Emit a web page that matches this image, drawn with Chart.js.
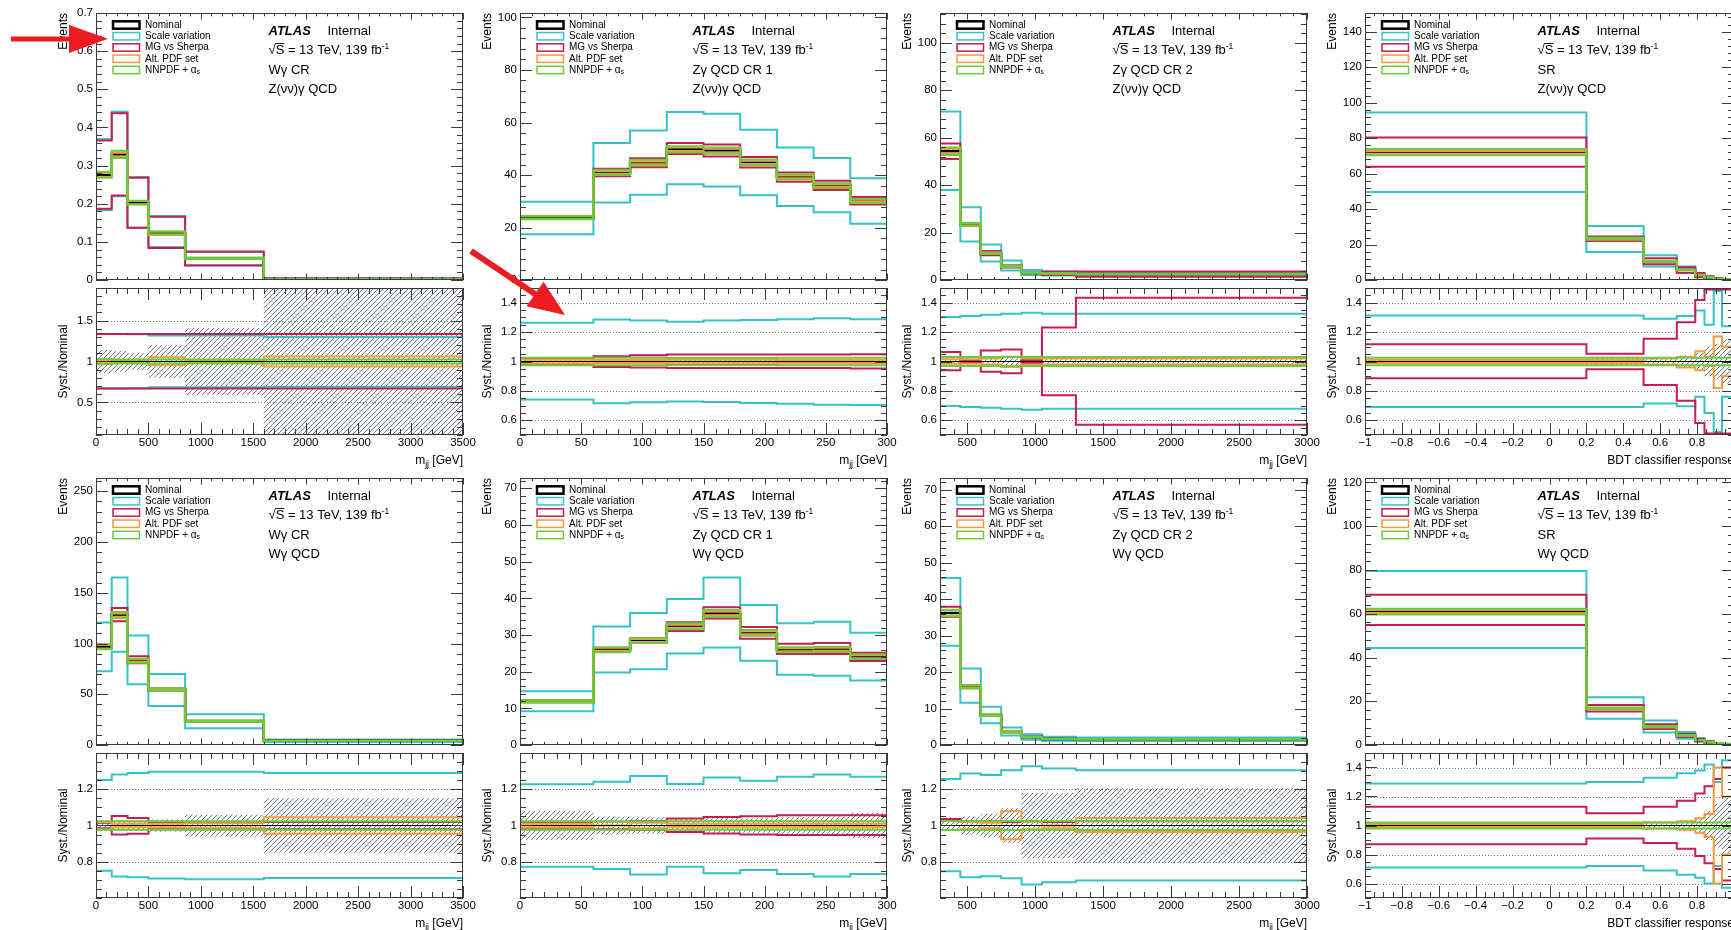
<!DOCTYPE html>
<html>
<head>
<meta charset="utf-8">
<title>Theory systematics</title>
<script src="https://cdn.jsdelivr.net/npm/chart.js@4.4.1/dist/chart.umd.min.js"></script>
<style>
  html, body { margin: 0; padding: 0; background: #ffffff; overflow: hidden; }
  #page { position: relative; width: 1731px; height: 930px; overflow: hidden; background: #ffffff; }
  #page canvas { position: absolute; }
  #arrows { position: absolute; left: 0; top: 0; z-index: 5; }
</style>
</head>
<body>
<div id="page">
  <svg id="arrows" width="1731" height="930">
    <polygon points="11,36.5 69,36.5 69,25 108,38.8 69,53 69,41.5 11,41.5" fill="#ec1c24"/>
    <polygon points="472.7,248.5 536.7,291.5 543.6,281.7 565,315 526.4,306.3 533.3,296.5 469.3,253.5" fill="#ec1c24"/>
  </svg>
</div>
<script>
// ---- bin edges ----
const mjjEdgesWide = [0, 150, 300, 500, 850, 1600, 3500];
const mjjEdgesCR1 = [0, 60, 90, 120, 150, 180, 210, 240, 270, 300];
const mjjEdgesCR2 = [300, 450, 600, 750, 900, 1050, 1300, 3000];
const bdtEdges = [-1, 0.2, 0.51, 0.69, 0.79, 0.84, 0.89, 0.935, 1];

// ---- tick labels ----
const mjjTicksWide = [0, 500, 1000, 1500, 2000, 2500, 3000, 3500];
const mjjTicksCR1 = [0, 50, 100, 150, 200, 250, 300];
const mjjTicksCR2 = [500, 1000, 1500, 2000, 2500, 3000];
const bdtTicks = [-1, -0.8, -0.6, -0.4, -0.2, 0, 0.2, 0.4, 0.6, 0.8, 1];
const yTicksZWcr = [0, 0.1, 0.2, 0.3, 0.4, 0.5, 0.6, 0.7];
const yTicksZCr = [0, 20, 40, 60, 80, 100];
const yTicksZSr = [0, 20, 40, 60, 80, 100, 120, 140];
const yTicksWWcr = [0, 50, 100, 150, 200, 250];
const yTicksWCr = [0, 10, 20, 30, 40, 50, 60, 70];
const yTicksWSr = [0, 20, 40, 60, 80, 100, 120];
const ratioTicksWide = [0.5, 1, 1.5];
const ratioTicksMid = [0.6, 0.8, 1, 1.2, 1.4];
const ratioTicksNarrow = [0.8, 1, 1.2];

// ---- Z(vv)gamma QCD in W gamma CR ----
const zWcr_nominal = [0.276, 0.329, 0.203, 0.123, 0.057, 0.003];
const zWcr_scaleUp = [0.370, 0.441, 0.270, 0.168, 0.075, 0.004];
const zWcr_scaleDown = [0.184, 0.220, 0.137, 0.087, 0.039, 0.002];
const zWcr_mgUp = [0.366, 0.437, 0.268, 0.166, 0.074, 0.004];
const zWcr_mgDown = [0.187, 0.222, 0.137, 0.084, 0.038, 0.002];
const zWcr_pdfUp = [0.281, 0.334, 0.207, 0.128, 0.058, 0.003];
const zWcr_pdfDown = [0.270, 0.324, 0.199, 0.118, 0.056, 0.003];
const zWcr_nnpdfUp = [0.284, 0.339, 0.208, 0.127, 0.059, 0.003];
const zWcr_nnpdfDown = [0.268, 0.320, 0.198, 0.120, 0.055, 0.003];
const zWcr_rScaleUp = [1.338, 1.338, 1.335, 1.318, 1.318, 1.300];
const zWcr_rScaleDown = [0.670, 0.670, 0.672, 0.685, 0.685, 0.690];
const zWcr_rMgUp = [1.338, 1.338, 1.338, 1.338, 1.338, 1.338];
const zWcr_rMgDown = [0.668, 0.668, 0.668, 0.668, 0.668, 0.668];
const zWcr_rPdfUp = [1.015, 1.015, 1.015, 1.052, 1.010, 1.062];
const zWcr_rPdfDown = [0.985, 0.985, 0.985, 0.955, 0.990, 0.938];
const zWcr_rNnpdfUp = [1.030, 1.025, 1.025, 1.025, 1.025, 1.025];
const zWcr_rNnpdfDown = [0.970, 0.975, 0.975, 0.975, 0.975, 0.975];
const zWcr_rStat = [0.14, 0.13, 0.10, 0.20, 0.41, 1.50];

// ---- Z(vv)gamma QCD in Z gamma QCD CR 1 ----
const zCr1_nominal = [23.8, 41.0, 44.7, 49.8, 49.3, 44.8, 39.3, 36.0, 30.2];
const zCr1_scaleUp = [29.8, 52.2, 57.0, 64.0, 63.3, 57.2, 50.5, 46.5, 38.8];
const zCr1_scaleDown = [17.5, 29.5, 32.5, 36.5, 35.6, 32.3, 28.2, 25.8, 21.5];
const zCr1_mgUp = [24.4, 42.4, 46.4, 52.2, 51.6, 46.9, 41.0, 37.8, 31.6];
const zCr1_mgDown = [23.3, 39.5, 43.0, 48.0, 47.1, 42.9, 37.4, 34.3, 28.8];
const zCr1_pdfUp = [24.3, 41.5, 45.2, 50.5, 50.0, 45.4, 39.8, 36.5, 30.6];
const zCr1_pdfDown = [23.4, 40.5, 44.1, 49.2, 48.6, 44.2, 38.8, 35.5, 29.8];
const zCr1_nnpdfUp = [24.4, 42.0, 45.8, 51.0, 50.5, 45.9, 40.3, 36.9, 31.0];
const zCr1_nnpdfDown = [23.2, 40.0, 43.6, 48.6, 48.1, 43.7, 38.3, 35.1, 29.4];
const zCr1_rScaleUp = [1.263, 1.286, 1.279, 1.270, 1.279, 1.283, 1.288, 1.295, 1.288];
const zCr1_rScaleDown = [0.742, 0.716, 0.722, 0.728, 0.724, 0.717, 0.712, 0.706, 0.704];
const zCr1_rMgUp = [1.020, 1.035, 1.043, 1.048, 1.048, 1.048, 1.048, 1.048, 1.050];
const zCr1_rMgDown = [0.980, 0.962, 0.960, 0.955, 0.955, 0.955, 0.955, 0.955, 0.953];
const zCr1_rPdfUp = [1.012, 1.010, 1.010, 1.012, 1.012, 1.012, 1.010, 1.010, 1.010];
const zCr1_rPdfDown = [0.988, 0.990, 0.990, 0.988, 0.988, 0.988, 0.990, 0.990, 0.990];
const zCr1_rNnpdfUp = [1.025, 1.025, 1.025, 1.024, 1.024, 1.024, 1.025, 1.025, 1.025];
const zCr1_rNnpdfDown = [0.975, 0.975, 0.975, 0.976, 0.976, 0.976, 0.975, 0.975, 0.975];
const zCr1_rStat = [0.010, 0.012, 0.012, 0.012, 0.012, 0.012, 0.010, 0.010, 0.010];

// ---- Z(vv)gamma QCD in Z gamma QCD CR 2 ----
const zCr2_nominal = [54.3, 23.5, 11.3, 5.8, 3.0, 2.8, 2.5];
const zCr2_scaleUp = [71.0, 30.7, 15.0, 8.3, 4.3, 3.7, 3.4];
const zCr2_scaleDown = [38.0, 16.3, 7.8, 4.0, 2.1, 1.9, 1.7];
const zCr2_mgUp = [57.5, 24.0, 12.3, 6.3, 3.1, 3.5, 3.6];
const zCr2_mgDown = [51.0, 23.0, 10.5, 5.3, 2.9, 2.2, 1.45];
const zCr2_pdfUp = [55.2, 24.0, 11.6, 6.0, 3.1, 2.9, 2.55];
const zCr2_pdfDown = [53.3, 23.1, 11.0, 5.6, 2.9, 2.7, 2.45];
const zCr2_nnpdfUp = [55.8, 24.1, 11.6, 6.0, 3.1, 2.9, 2.6];
const zCr2_nnpdfDown = [52.7, 22.8, 11.0, 5.6, 2.9, 2.7, 2.4];
const zCr2_rScaleUp = [1.302, 1.309, 1.318, 1.325, 1.331, 1.325, 1.325];
const zCr2_rScaleDown = [0.698, 0.691, 0.685, 0.678, 0.672, 0.678, 0.678];
const zCr2_rMgUp = [1.064, 1.010, 1.075, 1.082, 1.010, 1.231, 1.434];
const zCr2_rMgDown = [0.940, 0.990, 0.930, 0.920, 0.990, 0.771, 0.570];
const zCr2_rPdfUp = [1.015, 1.015, 1.020, 1.033, 1.020, 1.020, 1.020];
const zCr2_rPdfDown = [0.985, 0.985, 0.980, 0.962, 0.980, 0.980, 0.980];
const zCr2_rNnpdfUp = [1.030, 1.030, 1.030, 1.030, 1.030, 1.030, 1.030];
const zCr2_rNnpdfDown = [0.970, 0.970, 0.970, 0.970, 0.970, 0.970, 0.970];
const zCr2_rStat = [0.02, 0.02, 0.03, 0.03, 0.03, 0.03, 0.025];

// ---- Z(vv)gamma QCD in SR ----
const zSr_nominal = [72.0, 23.3, 10.6, 5.8, 2.8, 1.5, 0.8, 0.4];
const zSr_scaleUp = [94.5, 30.5, 14.0, 7.6, 3.8, 1.9, 1.2, 0.5];
const zSr_scaleDown = [49.7, 15.9, 7.6, 4.0, 2.1, 1.0, 0.4, 0.3];
const zSr_mgUp = [80.3, 24.5, 12.3, 7.3, 4.0, 2.2, 1.2, 0.6];
const zSr_mgDown = [63.8, 22.1, 8.9, 4.2, 1.6, 0.7, 0.4, 0.2];
const zSr_pdfUp = [72.8, 23.6, 10.8, 6.0, 3.0, 1.55, 0.93, 0.44];
const zSr_pdfDown = [71.2, 23.0, 10.4, 5.6, 2.6, 1.45, 0.66, 0.36];
const zSr_nnpdfUp = [73.8, 23.9, 10.9, 5.9, 2.9, 1.55, 0.82, 0.41];
const zSr_nnpdfDown = [70.4, 22.7, 10.3, 5.7, 2.7, 1.45, 0.78, 0.39];
const zSr_rScaleUp = [1.313, 1.313, 1.290, 1.309, 1.347, 1.250, 1.480, 1.240];
const zSr_rScaleDown = [0.691, 0.691, 0.714, 0.696, 0.760, 0.650, 0.520, 0.760];
const zSr_rMgUp = [1.117, 1.053, 1.155, 1.267, 1.418, 1.490, 1.490, 1.490];
const zSr_rMgDown = [0.886, 0.947, 0.840, 0.733, 0.582, 0.510, 0.510, 0.510];
const zSr_rPdfUp = [1.010, 1.010, 1.020, 1.030, 1.070, 1.030, 1.170, 1.100];
const zSr_rPdfDown = [0.990, 0.990, 0.980, 0.960, 0.940, 0.970, 0.820, 0.900];
const zSr_rNnpdfUp = [1.025, 1.025, 1.025, 1.025, 1.025, 1.025, 1.025, 1.025];
const zSr_rNnpdfDown = [0.975, 0.975, 0.975, 0.975, 0.975, 0.975, 0.975, 0.975];
const zSr_rStat = [0.01, 0.03, 0.03, 0.04, 0.06, 0.10, 0.12, 0.15];

// ---- W gamma QCD in W gamma CR ----
const wWcr_nominal = [96.7, 128.0, 83.0, 54.7, 23.5, 4.2];
const wWcr_scaleUp = [120.8, 165.0, 107.8, 70.0, 30.3, 5.4];
const wWcr_scaleDown = [72.6, 91.8, 60.0, 38.4, 16.6, 3.0];
const wWcr_mgUp = [99.0, 135.0, 87.6, 55.8, 24.0, 4.3];
const wWcr_mgDown = [95.0, 122.0, 80.5, 53.5, 23.0, 4.1];
const wWcr_pdfUp = [98.5, 129.5, 84.5, 55.3, 24.0, 4.4];
const wWcr_pdfDown = [95.0, 126.5, 82.0, 54.1, 23.0, 4.0];
const wWcr_nnpdfUp = [99.0, 131.0, 85.0, 56.0, 24.1, 4.3];
const wWcr_nnpdfDown = [94.5, 125.0, 81.0, 53.4, 22.9, 4.1];
const wWcr_rScaleUp = [1.251, 1.282, 1.289, 1.296, 1.296, 1.289];
const wWcr_rScaleDown = [0.751, 0.718, 0.715, 0.707, 0.704, 0.711];
const wWcr_rMgUp = [1.015, 1.053, 1.042, 1.020, 1.020, 1.020];
const wWcr_rMgDown = [0.985, 0.951, 0.955, 0.980, 0.980, 0.980];
const wWcr_rPdfUp = [1.020, 1.010, 1.010, 1.010, 1.012, 1.045];
const wWcr_rPdfDown = [0.980, 0.990, 0.990, 0.990, 0.988, 0.955];
const wWcr_rNnpdfUp = [1.024, 1.024, 1.024, 1.024, 1.024, 1.024];
const wWcr_rNnpdfDown = [0.976, 0.976, 0.976, 0.976, 0.976, 0.976];
const wWcr_rStat = [0.03, 0.03, 0.03, 0.035, 0.06, 0.15];

// ---- W gamma QCD in Z gamma QCD CR 1 ----
const wCr1_nominal = [11.9, 25.9, 28.5, 32.4, 35.9, 30.6, 26.0, 26.1, 24.1];
const wCr1_scaleUp = [14.7, 32.3, 36.0, 39.8, 45.7, 38.2, 33.2, 33.6, 30.6];
const wCr1_scaleDown = [9.2, 19.8, 20.7, 25.0, 26.6, 23.0, 19.2, 18.9, 17.6];
const wCr1_mgUp = [12.2, 26.4, 29.1, 33.5, 37.6, 32.2, 27.6, 27.8, 25.2];
const wCr1_mgDown = [11.7, 25.5, 27.9, 31.1, 34.5, 29.0, 24.8, 24.8, 22.9];
const wCr1_pdfUp = [12.1, 26.6, 28.9, 32.8, 36.4, 31.0, 26.4, 26.5, 24.5];
const wCr1_pdfDown = [11.7, 25.7, 28.1, 32.0, 35.4, 30.2, 25.6, 25.7, 23.7];
const wCr1_nnpdfUp = [12.2, 26.6, 29.2, 33.2, 36.8, 31.4, 26.7, 26.8, 24.7];
const wCr1_nnpdfDown = [11.6, 25.3, 27.8, 31.6, 35.0, 29.8, 25.3, 25.4, 23.5];
const wCr1_rScaleUp = [1.227, 1.242, 1.273, 1.229, 1.265, 1.247, 1.269, 1.282, 1.269];
const wCr1_rScaleDown = [0.773, 0.760, 0.729, 0.773, 0.736, 0.755, 0.733, 0.718, 0.733];
const wCr1_rMgUp = [1.020, 1.020, 1.025, 1.038, 1.047, 1.051, 1.056, 1.056, 1.056];
const wCr1_rMgDown = [0.980, 0.980, 0.975, 0.964, 0.956, 0.951, 0.947, 0.947, 0.947];
const wCr1_rPdfUp = [1.010, 1.020, 1.015, 1.010, 1.010, 1.010, 1.010, 1.010, 1.010];
const wCr1_rPdfDown = [0.990, 1.000, 0.985, 0.990, 0.990, 0.990, 0.990, 0.990, 0.990];
const wCr1_rNnpdfUp = [1.023, 1.023, 1.023, 1.023, 1.023, 1.023, 1.023, 1.023, 1.023];
const wCr1_rNnpdfDown = [0.977, 0.977, 0.977, 0.977, 0.977, 0.977, 0.977, 0.977, 0.977];
const wCr1_rStat = [0.08, 0.05, 0.045, 0.04, 0.04, 0.04, 0.045, 0.05, 0.07];

// ---- W gamma QCD in Z gamma QCD CR 2 ----
const wCr2_nominal = [36.2, 16.0, 8.2, 3.6, 2.2, 1.7, 1.6];
const wCr2_scaleUp = [45.8, 21.0, 10.5, 4.8, 3.0, 2.3, 2.1];
const wCr2_scaleDown = [27.2, 11.6, 6.0, 2.6, 1.5, 1.2, 1.1];
const wCr2_mgUp = [37.9, 16.5, 8.4, 3.8, 2.3, 1.75, 1.65];
const wCr2_mgDown = [35.1, 15.6, 8.0, 3.5, 2.1, 1.65, 1.55];
const wCr2_pdfUp = [37.1, 16.3, 8.4, 3.9, 2.25, 1.7, 1.65];
const wCr2_pdfDown = [35.3, 15.7, 8.1, 3.35, 2.15, 1.68, 1.54];
const wCr2_nnpdfUp = [37.0, 16.4, 8.4, 3.7, 2.25, 1.75, 1.65];
const wCr2_nnpdfDown = [35.3, 15.6, 8.0, 3.5, 2.15, 1.65, 1.55];
const wCr2_rScaleUp = [1.256, 1.287, 1.278, 1.305, 1.327, 1.315, 1.305];
const wCr2_rScaleDown = [0.747, 0.715, 0.720, 0.709, 0.675, 0.687, 0.696];
const wCr2_rMgUp = [1.036, 1.025, 1.024, 1.020, 1.020, 1.020, 1.024];
const wCr2_rMgDown = [0.975, 0.975, 0.975, 0.975, 0.975, 0.975, 0.975];
const wCr2_rPdfUp = [1.025, 1.020, 1.015, 1.078, 1.020, 1.000, 1.042];
const wCr2_rPdfDown = [0.975, 0.980, 0.985, 0.924, 0.980, 0.985, 0.964];
const wCr2_rNnpdfUp = [1.025, 1.025, 1.025, 1.025, 1.025, 1.025, 1.025];
const wCr2_rNnpdfDown = [0.975, 0.975, 0.975, 0.975, 0.975, 0.975, 0.975];
const wCr2_rStat = [0.03, 0.05, 0.065, 0.095, 0.18, 0.18, 0.205];

// ---- W gamma QCD in SR ----
const wSr_nominal = [61.0, 16.8, 8.4, 4.4, 2.3, 1.3, 0.8, 0.4];
const wSr_scaleUp = [79.5, 21.8, 11.2, 6.0, 3.2, 1.9, 1.0, 0.6];
const wSr_scaleDown = [44.3, 12.0, 5.8, 2.9, 1.5, 0.8, 0.6, 0.25];
const wSr_mgUp = [68.7, 18.3, 9.5, 5.1, 2.8, 1.6, 1.0, 0.55];
const wSr_mgDown = [54.8, 15.3, 7.4, 3.7, 1.8, 0.95, 0.55, 0.25];
const wSr_pdfUp = [61.7, 17.0, 8.6, 4.5, 2.4, 1.4, 1.1, 0.5];
const wSr_pdfDown = [60.3, 16.6, 8.2, 4.3, 2.2, 1.2, 0.5, 0.3];
const wSr_nnpdfUp = [62.3, 17.2, 8.6, 4.5, 2.35, 1.33, 0.82, 0.41];
const wSr_nnpdfDown = [59.7, 16.4, 8.2, 4.3, 2.25, 1.27, 0.78, 0.39];
const wSr_rScaleUp = [1.29, 1.30, 1.33, 1.36, 1.38, 1.42, 1.30, 1.45];
const wSr_rScaleDown = [0.71, 0.72, 0.69, 0.66, 0.64, 0.60, 0.72, 0.57];
const wSr_rMgUp = [1.13, 1.085, 1.13, 1.17, 1.22, 1.27, 1.32, 1.40];
const wSr_rMgDown = [0.87, 0.91, 0.88, 0.84, 0.79, 0.74, 0.70, 0.62];
const wSr_rPdfUp = [1.01, 1.01, 1.02, 1.03, 1.05, 1.08, 1.40, 1.20];
const wSr_rPdfDown = [0.99, 0.99, 0.98, 0.97, 0.95, 0.92, 0.60, 0.80];
const wSr_rNnpdfUp = [1.02, 1.02, 1.02, 1.02, 1.02, 1.02, 1.02, 1.02];
const wSr_rNnpdfDown = [0.98, 0.98, 0.98, 0.98, 0.98, 0.98, 0.98, 0.98];
const wSr_rStat = [0.01, 0.02, 0.03, 0.04, 0.06, 0.10, 0.15, 0.20];

// ---- style / layout ----
const FONT = '"Liberation Sans", Arial, Helvetica, sans-serif';
const SYST_COLORS = ['#35c3c8', '#c81d4e', '#f59b42', '#6acb3c']; // scale, MG, PDF, NNPDF
const LEGEND = [
  { text: 'Nominal', color: '#000000', width: 2.5 },
  { text: 'Scale variation', color: SYST_COLORS[0], width: 1.5 },
  { text: 'MG vs Sherpa', color: SYST_COLORS[1], width: 1.5 },
  { text: 'Alt. PDF set', color: SYST_COLORS[2], width: 1.5 },
  { text: 'NNPDF + \u03b1', sub: 's', color: SYST_COLORS[3], width: 1.5 }
];
const COL_LEFT = [96, 520, 940, 1365];
const COL_WIDTH = [367, 367, 367, 369];
const ROWS = [
  { mainTop: 13, mainBottom: 282, ratioTop: 288, ratioBottom: 435 },
  { mainTop: 478, mainBottom: 747, ratioTop: 753, ratioBottom: 898 }
];
const LM = 62, RM = 24, TM = 10, BM = 8, XAXIS_H = 40;

Chart.defaults.font.family = FONT;
Chart.defaults.color = '#000';

const panels = [
  { col: 0, row: 0, edges: mjjEdgesWide, xMin: 0, xMax: 3500, xTicks: mjjTicksWide, xMinor: 100,
    yMax: 0.7, yTicks: yTicksZWcr, yMinor: 0.02, rMin: 0.1, rMax: 1.9, rTicks: ratioTicksWide, rMinor: 0.1,
    region: 'W\u03b3 CR', process: 'Z(\u03bd\u03bd)\u03b3 QCD', xTitle: 'mjj',
    nominal: zWcr_nominal,
    up: [zWcr_scaleUp, zWcr_mgUp, zWcr_pdfUp, zWcr_nnpdfUp], down: [zWcr_scaleDown, zWcr_mgDown, zWcr_pdfDown, zWcr_nnpdfDown],
    rUp: [zWcr_rScaleUp, zWcr_rMgUp, zWcr_rPdfUp, zWcr_rNnpdfUp], rDown: [zWcr_rScaleDown, zWcr_rMgDown, zWcr_rPdfDown, zWcr_rNnpdfDown],
    stat: zWcr_rStat },
  { col: 1, row: 0, edges: mjjEdgesCR1, xMin: 0, xMax: 300, xTicks: mjjTicksCR1, xMinor: 10,
    yMax: 101.7, yTicks: yTicksZCr, yMinor: 4, rMin: 0.5, rMax: 1.5, rTicks: ratioTicksMid, rMinor: 0.05,
    region: 'Z\u03b3 QCD CR 1', process: 'Z(\u03bd\u03bd)\u03b3 QCD', xTitle: 'mjj',
    nominal: zCr1_nominal,
    up: [zCr1_scaleUp, zCr1_mgUp, zCr1_pdfUp, zCr1_nnpdfUp], down: [zCr1_scaleDown, zCr1_mgDown, zCr1_pdfDown, zCr1_nnpdfDown],
    rUp: [zCr1_rScaleUp, zCr1_rMgUp, zCr1_rPdfUp, zCr1_rNnpdfUp], rDown: [zCr1_rScaleDown, zCr1_rMgDown, zCr1_rPdfDown, zCr1_rNnpdfDown],
    stat: zCr1_rStat },
  { col: 2, row: 0, edges: mjjEdgesCR2, xMin: 300, xMax: 3000, xTicks: mjjTicksCR2, xMinor: 100,
    yMax: 112.5, yTicks: yTicksZCr, yMinor: 4, rMin: 0.5, rMax: 1.5, rTicks: ratioTicksMid, rMinor: 0.05,
    region: 'Z\u03b3 QCD CR 2', process: 'Z(\u03bd\u03bd)\u03b3 QCD', xTitle: 'mjj',
    nominal: zCr2_nominal,
    up: [zCr2_scaleUp, zCr2_mgUp, zCr2_pdfUp, zCr2_nnpdfUp], down: [zCr2_scaleDown, zCr2_mgDown, zCr2_pdfDown, zCr2_nnpdfDown],
    rUp: [zCr2_rScaleUp, zCr2_rMgUp, zCr2_rPdfUp, zCr2_rNnpdfUp], rDown: [zCr2_rScaleDown, zCr2_rMgDown, zCr2_rPdfDown, zCr2_rNnpdfDown],
    stat: zCr2_rStat },
  { col: 3, row: 0, edges: bdtEdges, xMin: -1, xMax: 1, xTicks: bdtTicks, xMinor: 0.05,
    yMax: 150.5, yTicks: yTicksZSr, yMinor: 4, rMin: 0.5, rMax: 1.5, rTicks: ratioTicksMid, rMinor: 0.05,
    region: 'SR', process: 'Z(\u03bd\u03bd)\u03b3 QCD', xTitle: 'bdt',
    nominal: zSr_nominal,
    up: [zSr_scaleUp, zSr_mgUp, zSr_pdfUp, zSr_nnpdfUp], down: [zSr_scaleDown, zSr_mgDown, zSr_pdfDown, zSr_nnpdfDown],
    rUp: [zSr_rScaleUp, zSr_rMgUp, zSr_rPdfUp, zSr_rNnpdfUp], rDown: [zSr_rScaleDown, zSr_rMgDown, zSr_rPdfDown, zSr_rNnpdfDown],
    stat: zSr_rStat },
  { col: 0, row: 1, edges: mjjEdgesWide, xMin: 0, xMax: 3500, xTicks: mjjTicksWide, xMinor: 100,
    yMax: 263, yTicks: yTicksWWcr, yMinor: 10, rMin: 0.6, rMax: 1.4, rTicks: ratioTicksNarrow, rMinor: 0.05,
    region: 'W\u03b3 CR', process: 'W\u03b3 QCD', xTitle: 'mjj',
    nominal: wWcr_nominal,
    up: [wWcr_scaleUp, wWcr_mgUp, wWcr_pdfUp, wWcr_nnpdfUp], down: [wWcr_scaleDown, wWcr_mgDown, wWcr_pdfDown, wWcr_nnpdfDown],
    rUp: [wWcr_rScaleUp, wWcr_rMgUp, wWcr_rPdfUp, wWcr_rNnpdfUp], rDown: [wWcr_rScaleDown, wWcr_rMgDown, wWcr_rPdfDown, wWcr_rNnpdfDown],
    stat: wWcr_rStat },
  { col: 1, row: 1, edges: mjjEdgesCR1, xMin: 0, xMax: 300, xTicks: mjjTicksCR1, xMinor: 10,
    yMax: 72.8, yTicks: yTicksWCr, yMinor: 2, rMin: 0.6, rMax: 1.4, rTicks: ratioTicksNarrow, rMinor: 0.05,
    region: 'Z\u03b3 QCD CR 1', process: 'W\u03b3 QCD', xTitle: 'mjj',
    nominal: wCr1_nominal,
    up: [wCr1_scaleUp, wCr1_mgUp, wCr1_pdfUp, wCr1_nnpdfUp], down: [wCr1_scaleDown, wCr1_mgDown, wCr1_pdfDown, wCr1_nnpdfDown],
    rUp: [wCr1_rScaleUp, wCr1_rMgUp, wCr1_rPdfUp, wCr1_rNnpdfUp], rDown: [wCr1_rScaleDown, wCr1_rMgDown, wCr1_rPdfDown, wCr1_rNnpdfDown],
    stat: wCr1_rStat },
  { col: 2, row: 1, edges: mjjEdgesCR2, xMin: 300, xMax: 3000, xTicks: mjjTicksCR2, xMinor: 100,
    yMax: 73.2, yTicks: yTicksWCr, yMinor: 2, rMin: 0.6, rMax: 1.4, rTicks: ratioTicksNarrow, rMinor: 0.05,
    region: 'Z\u03b3 QCD CR 2', process: 'W\u03b3 QCD', xTitle: 'mjj',
    nominal: wCr2_nominal,
    up: [wCr2_scaleUp, wCr2_mgUp, wCr2_pdfUp, wCr2_nnpdfUp], down: [wCr2_scaleDown, wCr2_mgDown, wCr2_pdfDown, wCr2_nnpdfDown],
    rUp: [wCr2_rScaleUp, wCr2_rMgUp, wCr2_rPdfUp, wCr2_rNnpdfUp], rDown: [wCr2_rScaleDown, wCr2_rMgDown, wCr2_rPdfDown, wCr2_rNnpdfDown],
    stat: wCr2_rStat },
  { col: 3, row: 1, edges: bdtEdges, xMin: -1, xMax: 1, xTicks: bdtTicks, xMinor: 0.05,
    yMax: 122, yTicks: yTicksWSr, yMinor: 4, rMin: 0.5, rMax: 1.5, rTicks: ratioTicksMid, rMinor: 0.05,
    region: 'SR', process: 'W\u03b3 QCD', xTitle: 'bdt',
    nominal: wSr_nominal,
    up: [wSr_scaleUp, wSr_mgUp, wSr_pdfUp, wSr_nnpdfUp], down: [wSr_scaleDown, wSr_mgDown, wSr_pdfDown, wSr_nnpdfDown],
    rUp: [wSr_rScaleUp, wSr_rMgUp, wSr_rPdfUp, wSr_rNnpdfUp], rDown: [wSr_rScaleDown, wSr_rMgDown, wSr_rPdfDown, wSr_rNnpdfDown],
    stat: wSr_rStat }
];

function fmt(v) {
  const r = Math.round(v * 1000) / 1000;
  return String(r).replace('-', '\u2212');
}

function gridValues(min, max, step) {
  const out = [];
  const k0 = Math.ceil(min / step - 1e-6), k1 = Math.floor(max / step + 1e-6);
  for (let k = k0; k <= k1; k++) out.push(k * step);
  return out;
}

function histPoints(edges, values) {
  const pts = values.map((v, i) => ({ x: edges[i], y: v }));
  pts.push({ x: edges[edges.length - 1], y: values[values.length - 1] });
  return pts;
}

function stepDataset(edges, values, color, width) {
  return {
    data: histPoints(edges, values),
    borderColor: color,
    backgroundColor: color,
    borderWidth: width,
    stepped: 'before',
    pointRadius: 0,
    fill: false
  };
}

function addCanvas(left, top, w, h) {
  const c = document.createElement('canvas');
  c.width = w;
  c.height = h;
  c.style.left = left + 'px';
  c.style.top = top + 'px';
  c.style.width = w + 'px';
  c.style.height = h + 'px';
  document.getElementById('page').appendChild(c);
  return c;
}

function hatchPattern(ctx) {
  const tile = document.createElement('canvas');
  tile.width = 5;
  tile.height = 5;
  const g = tile.getContext('2d');
  g.strokeStyle = '#5f6b78';
  g.lineWidth = 0.9;
  g.beginPath();
  g.moveTo(-1, 6); g.lineTo(6, -1);
  g.moveTo(-1, 1); g.lineTo(1, -1);
  g.moveTo(4, 6); g.lineTo(6, 4);
  g.stroke();
  return ctx.createPattern(tile, 'repeat');
}

function drawMjj(ctx, xr, yb) {
  ctx.textAlign = 'left';
  ctx.textBaseline = 'alphabetic';
  ctx.font = '12px ' + FONT;
  const wm = ctx.measureText('m').width, wg = ctx.measureText(' [GeV]').width;
  ctx.font = '8.5px ' + FONT;
  const wj = ctx.measureText('jj').width;
  const x0 = xr - wm - wj - wg;
  ctx.font = '12px ' + FONT;
  ctx.fillText('m', x0, yb);
  ctx.font = '8.5px ' + FONT;
  ctx.fillText('jj', x0 + wm, yb + 3);
  ctx.font = '12px ' + FONT;
  ctx.fillText(' [GeV]', x0 + wm + wj, yb);
}

function drawLegend(ctx, a) {
  LEGEND.forEach((it, i) => {
    const cy = a.top + 12 + i * 11.25;
    ctx.lineWidth = it.width;
    ctx.strokeStyle = it.color;
    ctx.fillStyle = '#fff';
    ctx.fillRect(a.left + 17, cy - 3.7, 26.5, 7.4);
    ctx.strokeRect(a.left + 17, cy - 3.7, 26.5, 7.4);
    ctx.fillStyle = '#000';
    ctx.font = '10px ' + FONT;
    ctx.textAlign = 'left';
    ctx.textBaseline = 'middle';
    ctx.fillText(it.text, a.left + 49, cy);
    if (it.sub) {
      const w = ctx.measureText(it.text).width;
      ctx.font = '7px ' + FONT;
      ctx.fillText(it.sub, a.left + 49 + w, cy + 2.5);
    }
  });
}

function drawAtlas(ctx, a, p) {
  const tx = a.left + 172.5, ty = a.top + 21.5;
  ctx.fillStyle = '#000';
  ctx.textAlign = 'left';
  ctx.textBaseline = 'alphabetic';
  ctx.font = 'italic bold 13px ' + FONT;
  ctx.fillText('ATLAS', tx, ty);
  ctx.font = '13px ' + FONT;
  ctx.fillText('Internal', a.left + 231.5, ty);
  const y2 = ty + 19.5;
  const wr = ctx.measureText('\u221a').width;
  ctx.fillText('\u221a', tx, y2);
  const ws = ctx.measureText('S').width;
  ctx.fillText('S', tx + wr, y2);
  ctx.strokeStyle = '#000';
  ctx.lineWidth = 0.9;
  ctx.beginPath();
  ctx.moveTo(tx + wr - 0.5, y2 - 10.5);
  ctx.lineTo(tx + wr + ws, y2 - 10.5);
  ctx.stroke();
  const rest = ' = 13 TeV, 139 fb';
  ctx.fillText(rest, tx + wr + ws, y2);
  const wrest = ctx.measureText(rest).width;
  ctx.font = '8.5px ' + FONT;
  ctx.fillText('-1', tx + wr + ws + wrest, y2 - 5.5);
  ctx.font = '13px ' + FONT;
  ctx.fillText(p.region, tx, ty + 39);
  ctx.fillText(p.process, tx, ty + 58.5);
}

function framePlugin(cfg) {
  return {
    id: 'rootFrame',
    beforeDatasetsDraw(chart) {
      if (!cfg.dotted.length) return;
      const { ctx, chartArea: a } = chart;
      const y = chart.scales.y;
      ctx.save();
      ctx.strokeStyle = '#7a7a7a';
      ctx.lineWidth = 1;
      ctx.setLineDash([1, 2]);
      cfg.dotted.forEach(v => {
        const py = Math.round(y.getPixelForValue(v)) + 0.5;
        ctx.beginPath();
        ctx.moveTo(a.left, py);
        ctx.lineTo(a.right, py);
        ctx.stroke();
      });
      ctx.restore();
    },
    afterDraw(chart) {
      const { ctx, chartArea: a } = chart;
      const x = chart.scales.x, y = chart.scales.y;
      const isMajor = (v, list) => list.some(t => Math.abs(t - v) < 1e-6);
      ctx.save();
      ctx.strokeStyle = '#3a3a3a';
      ctx.lineWidth = 1;
      ctx.beginPath();
      gridValues(x.min, x.max, cfg.xMinor).forEach(v => {
        const px = Math.round(x.getPixelForValue(v)) + 0.5;
        const len = isMajor(v, cfg.xMajor) ? cfg.xLen : cfg.xLen / 2;
        ctx.moveTo(px, a.bottom); ctx.lineTo(px, a.bottom - len);
        ctx.moveTo(px, a.top); ctx.lineTo(px, a.top + len);
      });
      gridValues(y.min, y.max, cfg.yMinor).forEach(v => {
        const py = Math.round(y.getPixelForValue(v)) + 0.5;
        const len = isMajor(v, cfg.yMajor) ? 12 : 6;
        ctx.moveTo(a.left, py); ctx.lineTo(a.left + len, py);
        ctx.moveTo(a.right, py); ctx.lineTo(a.right - len, py);
      });
      ctx.stroke();
      ctx.strokeRect(Math.round(a.left) + 0.5, Math.round(a.top) + 0.5,
                     Math.round(a.right - a.left) - 1, Math.round(a.bottom - a.top) - 1);
      // y title
      ctx.save();
      ctx.fillStyle = '#000';
      ctx.font = '12px ' + FONT;
      ctx.textBaseline = 'middle';
      if (cfg.isMain) {
        ctx.translate(a.left - 32, a.top);
        ctx.rotate(-Math.PI / 2);
        ctx.textAlign = 'right';
        ctx.fillText('Events', 0, 0);
      } else {
        ctx.translate(a.left - 32, (a.top + a.bottom) / 2);
        ctx.rotate(-Math.PI / 2);
        ctx.textAlign = 'center';
        ctx.fillText('Syst./Nominal', 0, 0);
      }
      ctx.restore();
      ctx.fillStyle = '#000';
      if (cfg.isMain) {
        drawLegend(ctx, a);
        drawAtlas(ctx, a, cfg.panel);
      } else if (cfg.panel.xTitle === 'mjj') {
        drawMjj(ctx, a.right, a.bottom + 29);
      } else {
        ctx.font = '12px ' + FONT;
        ctx.textAlign = 'right';
        ctx.textBaseline = 'alphabetic';
        ctx.fillText('BDT classifier response', a.right, a.bottom + 29);
      }
      ctx.restore();
    }
  };
}

function axisOptions(min, max, ticks, show, fitSize, isX) {
  const ax = {
    type: 'linear',
    min: min,
    max: max,
    display: show,
    afterBuildTicks: s => { s.ticks = ticks.map(v => ({ value: v })); },
    grid: { display: false, drawTicks: false },
    border: { display: false },
    ticks: { autoSkip: false, maxRotation: 0, padding: isX ? 1 : 3, color: '#000',
             font: { size: 11.5 }, callback: v => fmt(v) }
  };
  if (isX) ax.afterFit = s => { s.height = fitSize; };
  else ax.afterFit = s => { s.width = fitSize; };
  return ax;
}

function baseOptions(padBottom, xAxis, yAxis) {
  return {
    responsive: false,
    animation: false,
    devicePixelRatio: 1,
    events: [],
    layout: { autoPadding: false, padding: { left: 0, top: TM, right: RM, bottom: padBottom } },
    plugins: { legend: { display: false }, tooltip: { enabled: false } },
    scales: { x: xAxis, y: yAxis }
  };
}

panels.forEach(p => {
  const g = ROWS[p.row];
  const left = COL_LEFT[p.col] - LM;
  const w = LM + COL_WIDTH[p.col] + RM;

  // main histogram pad
  const mainH = TM + (g.mainBottom - g.mainTop) + BM;
  const mainCanvas = addCanvas(left, g.mainTop - TM, w, mainH);
  const mainSets = [];
  [3, 2].forEach(k => {
    mainSets.push(stepDataset(p.edges, p.up[k], SYST_COLORS[k], 2));
    mainSets.push(stepDataset(p.edges, p.down[k], SYST_COLORS[k], 2));
  });
  mainSets.push(stepDataset(p.edges, p.nominal, '#000000', 2.5));
  [1, 0].forEach(k => {
    mainSets.push(stepDataset(p.edges, p.up[k], SYST_COLORS[k], 2));
    mainSets.push(stepDataset(p.edges, p.down[k], SYST_COLORS[k], 2));
  });
  new Chart(mainCanvas, {
    type: 'line',
    data: { datasets: mainSets },
    options: baseOptions(BM,
      axisOptions(p.xMin, p.xMax, p.xTicks, false, 0, true),
      axisOptions(0, p.yMax, p.yTicks, true, LM, false)),
    plugins: [framePlugin({ isMain: true, panel: p, xMinor: p.xMinor, xMajor: p.xTicks, xLen: 6.5,
                            yMinor: p.yMinor, yMajor: p.yTicks, dotted: [] })]
  });

  // ratio pad
  const ratioH = TM + (g.ratioBottom - g.ratioTop) + XAXIS_H;
  const ratioCanvas = addCanvas(left, g.ratioTop - TM, w, ratioH);
  const pattern = hatchPattern(ratioCanvas.getContext('2d'));
  const ratioSets = [stepDataset(p.edges, p.nominal.map(() => 1), '#000000', 1.2)];
  [3, 2, 1, 0].forEach(k => {
    ratioSets.push(stepDataset(p.edges, p.rUp[k], SYST_COLORS[k], 2));
    ratioSets.push(stepDataset(p.edges, p.rDown[k], SYST_COLORS[k], 2));
  });
  const band = stepDataset(p.edges, p.stat.map(s => 1 + s), 'rgba(0,0,0,0)', 1);
  band.fill = '+1';
  band.backgroundColor = pattern;
  ratioSets.push(band);
  ratioSets.push(stepDataset(p.edges, p.stat.map(s => 1 - s), 'rgba(0,0,0,0)', 1));
  new Chart(ratioCanvas, {
    type: 'line',
    data: { datasets: ratioSets },
    options: baseOptions(0,
      axisOptions(p.xMin, p.xMax, p.xTicks, true, XAXIS_H, true),
      axisOptions(p.rMin, p.rMax, p.rTicks, true, LM, false)),
    plugins: [framePlugin({ isMain: false, panel: p, xMinor: p.xMinor, xMajor: p.xTicks, xLen: 12,
                            yMinor: p.rMinor, yMajor: p.rTicks, dotted: p.rTicks.filter(v => v !== 1) })]
  });
});
</script>
</body>
</html>
